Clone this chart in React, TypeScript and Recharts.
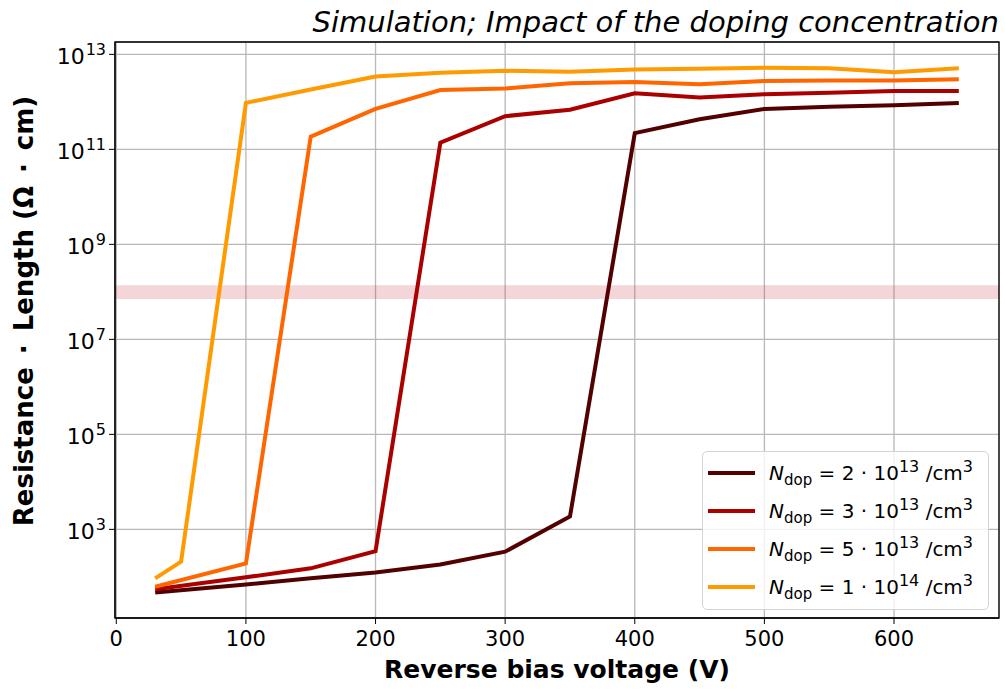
import React from "react";
import { LineChart, Line, XAxis, YAxis, CartesianGrid, ReferenceArea, Legend } from "recharts";

// voltage steps of the simulation (V)
const VOLTAGES = [30, 100, 150, 200, 250, 300, 350, 400, 450, 500, 550, 600, 650];
const VOLTAGES_1E14 = [30, 50, 100, 150, 200, 250, 300, 350, 400, 450, 500, 550, 600, 650];

// resistance * length (Ohm cm)
const RL_2E13 = [47, 69, 93, 123, 182, 339, 1860, 2.2e11, 4.3e11, 7.1e11, 7.9e11, 8.5e11, 9.5e11];
const RL_3E13 = [55, 98, 151, 347, 1.38e11, 5.0e11, 6.8e11, 1.51e12, 1.23e12, 1.45e12, 1.55e12, 1.7e12, 1.7e12];
const RL_5E13 = [62, 191, 1.86e11, 7.1e11, 1.78e12, 1.91e12, 2.45e12, 2.63e12, 2.34e12, 2.75e12, 2.82e12, 2.82e12, 3.0e12];
const RL_1E14 = [93, 209, 9.5e11, 1.82e12, 3.4e12, 4.1e12, 4.5e12, 4.3e12, 4.8e12, 5.0e12, 5.2e12, 5.1e12, 4.2e12, 5.1e12];

const DOP_MANTISSA = ["2", "3", "5", "1"];
const DOP_EXPONENT = ["13", "13", "13", "14"];
const COLORS = ["#520000", "#ab0000", "#ff6600", "#ff9a00"];

const X_TICKS = [0, 100, 200, 300, 400, 500, 600];
const Y_TICKS = [1e3, 1e5, 1e7, 1e9, 1e11, 1e13];
const Y_EXPONENTS = ["3", "5", "7", "9", "11", "13"];

const X_DOMAIN = [-1, 681];
const Y_DOMAIN = [13.6, 1.82e13];
const BAND = [7.1e7, 1.38e8];

const FONT = "DejaVu Sans";

const toRows = (xs: number[], ys: number[]) => xs.map((v, i) => ({ v, r: ys[i] }));

const SERIES = [
  toRows(VOLTAGES, RL_2E13),
  toRows(VOLTAGES, RL_3E13),
  toRows(VOLTAGES, RL_5E13),
  toRows(VOLTAGES_1E14, RL_1E14),
];

const XTick = ({ x, y, payload }: any) => (
  <text x={x} y={y + 18} textAnchor="middle" fontFamily={FONT} fontSize={21} fill="#000">
    {payload.value}
  </text>
);

const YTick = ({ x, y, payload }: any) => {
  const idx = Y_TICKS.indexOf(payload.value);
  return (
    <text x={x} y={y + 10} textAnchor="end" fontFamily={FONT} fontSize={22} fill="#000">
      10
      <tspan dx={1} dy={-9} fontSize={16}>{Y_EXPONENTS[idx]}</tspan>
    </text>
  );
};

const renderLegend = () => (
  <div
    style={{
      border: "1px solid #d4d4d4",
      borderRadius: 5,
      background: "rgba(255,255,255,0.8)",
      padding: "2px 6px 3px 5px",
      fontFamily: FONT,
      fontSize: 20,
      color: "#000",
      boxSizing: "border-box",
    }}
  >
    {COLORS.map((c, i) => (
      <div key={i} style={{ display: "flex", alignItems: "center", height: 38, whiteSpace: "nowrap" }}>
        <svg width={47} height={6} style={{ flex: "none" }}>
          <line x1={0} y1={3} x2={47} y2={3} stroke={c} strokeWidth={4} />
        </svg>
        <span style={{ marginLeft: 14 }}>
          <i>N</i>
          <span style={{ fontSize: 15, position: "relative", top: 5 }}>dop</span>
          {` = ${DOP_MANTISSA[i]} · 10`}
          <span style={{ fontSize: 16, position: "relative", top: -8 }}>{DOP_EXPONENT[i]}</span>
          {" /cm"}
          <span style={{ fontSize: 16, position: "relative", top: -8 }}>3</span>
        </span>
      </div>
    ))}
  </div>
);

export default function App() {
  return (
    <div style={{ position: "absolute", left: 0, top: 0, width: 1005, height: 689, background: "#fff" }}>
      <LineChart width={1005} height={689} margin={{ top: 42, right: 6, bottom: 0, left: 0 }}>
        <CartesianGrid stroke="#b8b8b8" strokeWidth={1.3} />
        <XAxis
          dataKey="v"
          type="number"
          domain={X_DOMAIN}
          ticks={X_TICKS}
          allowDataOverflow
          height={71}
          tickSize={6}
          tickMargin={4}
          stroke="#000"
          tick={<XTick />}
        />
        <YAxis
          type="number"
          scale="log"
          domain={Y_DOMAIN}
          ticks={Y_TICKS}
          allowDataOverflow
          width={115}
          tickSize={6}
          tickMargin={3}
          stroke="#000"
          tick={<YTick />}
        />
        <ReferenceArea y1={BAND[0]} y2={BAND[1]} fill="#c83040" fillOpacity={0.2} stroke="none" />
        {SERIES.map((rows, i) => (
          <Line
            key={i}
            data={rows}
            dataKey="r"
            stroke={COLORS[i]}
            strokeWidth={4}
            dot={false}
            isAnimationActive={false}
          />
        ))}
        <ReferenceArea
          x1={X_DOMAIN[0]}
          x2={X_DOMAIN[1]}
          y1={Y_DOMAIN[0]}
          y2={Y_DOMAIN[1]}
          fill="none"
          stroke="#000"
          strokeWidth={1.3}
        />
        <Legend
          layout="horizontal"
          verticalAlign="middle"
          align="center"
          wrapperStyle={{ left: 702, top: 451, width: 287 }}
          content={renderLegend}
        />
        <text x={999} y={32} textAnchor="end" fontFamily={FONT} fontStyle="italic" fontSize={29} fill="#000">
          Simulation; Impact of the doping concentration
        </text>
        <text x={557} y={678} textAnchor="middle" fontFamily={FONT} fontWeight="bold" fontSize={25} fill="#000">
          Reverse bias voltage (V)
        </text>
        <text
          x={33}
          y={311}
          textAnchor="middle"
          transform="rotate(-90 33 311)"
          fontFamily={FONT}
          fontWeight="bold"
          fontSize={26}
          fill="#000"
        >
          {"Resistance\u2002·\u2002Length (Ω\u2002·\u2002cm)"}
        </text>
      </LineChart>
    </div>
  );
}
